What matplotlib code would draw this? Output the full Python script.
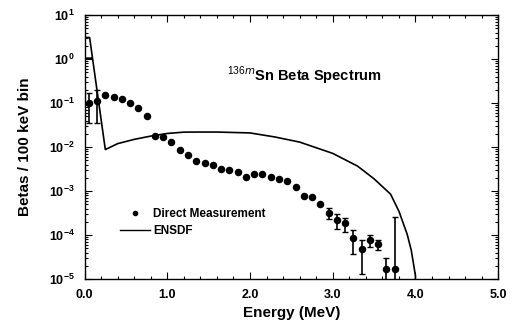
import numpy as np
import matplotlib
matplotlib.use("Agg")
import matplotlib.pyplot as plt
from matplotlib.ticker import FixedLocator, LogLocator, FuncFormatter, MultipleLocator, NullFormatter
from matplotlib.lines import Line2D

plt.rcParams['font.family'] = ['Liberation Sans', 'DejaVu Sans']
plt.rcParams['mathtext.fontset'] = 'custom'
plt.rcParams['mathtext.rm'] = 'Liberation Sans'
plt.rcParams['mathtext.bf'] = 'Liberation Sans:bold'

# measured spectrum (bin centres, MeV) and values
meas_e = [0.05, 0.15, 0.25, 0.35, 0.45, 0.55, 0.65, 0.75, 0.85, 0.95,
          1.05, 1.15, 1.25, 1.35, 1.45, 1.55, 1.65, 1.75, 1.85, 1.95,
          2.05, 2.15, 2.25, 2.35, 2.45, 2.55, 2.65, 2.75, 2.85, 2.95,
          3.05, 3.15, 3.25, 3.35, 3.45, 3.55, 3.65, 3.75]
meas_v = [0.10, 0.11, 0.15, 0.137, 0.123, 0.10, 0.078, 0.051, 0.018, 0.017,
          0.013, 0.0085, 0.0067, 0.0049, 0.0044, 0.0039, 0.0031, 0.0030, 0.00266, 0.0021,
          0.0025, 0.0025, 0.00204, 0.00185, 0.0017, 0.00126, 7.8e-4, 7.2e-4, 5.1e-4, 3.1e-4,
          2.2e-4, 1.86e-4, 8.4e-5, 4.8e-5, 7.9e-5, 6.3e-5, 1.66e-5, 1.66e-5]
meas_lo = [0.035, 0.035, 0.15, 0.137, 0.123, 0.10, 0.078, 0.051, 0.018, 0.017,
           0.013, 0.0085, 0.0067, 0.0049, 0.0044, 0.0039, 0.0031, 0.0030, 0.00266, 0.0021,
           0.0025, 0.0025, 0.00204, 0.00185, 0.0017, 0.00126, 7.8e-4, 7.2e-4, 5.1e-4, 2.3e-4,
           1.4e-4, 1.2e-4, 3.7e-5, 1.3e-5, 5.4e-5, 4.6e-5, 1e-6, 1e-6]
meas_hi = [0.17, 0.20, 0.15, 0.137, 0.123, 0.10, 0.078, 0.051, 0.018, 0.017,
           0.013, 0.0085, 0.0067, 0.0049, 0.0044, 0.0039, 0.0031, 0.0030, 0.00266, 0.0021,
           0.0025, 0.0025, 0.00204, 0.00185, 0.0017, 0.00126, 7.8e-4, 7.2e-4, 5.1e-4, 4.1e-4,
           2.95e-4, 2.45e-4, 1.29e-4, 7.9e-5, 1.0e-4, 7.9e-5, 2.95e-5, 2.6e-4]

# ENSDF calculated spectrum
ensdf_e = [0.08, 0.0, 0.0, 0.06, 0.25, 0.4, 0.6, 0.8, 1.0, 1.2, 1.4, 1.6, 2.0,
           2.3, 2.6, 3.0, 3.3, 3.5, 3.7, 3.8, 3.9, 3.95, 4.0, 4.0]
ensdf_v = [1.05, 1.05, 3.1, 3.1, 0.0088, 0.012, 0.015, 0.0178, 0.0204, 0.0219, 0.022, 0.022, 0.021,
           0.017, 0.013, 0.0072, 0.0037, 0.0019, 8.5e-4, 3.5e-4, 1.05e-4, 4.5e-5, 1.2e-5, 1e-5]

xticks = [0.0, 1.0, 2.0, 3.0, 4.0, 5.0]
yticks = [1e-5, 1e-4, 1e-3, 1e-2, 1e-1, 1e0, 1e1]

fig = plt.figure(figsize=(5.13, 3.28), dpi=100)
ax = fig.add_axes([0.165, 0.149, 0.806, 0.805])

mv = np.array(meas_v)
yerr = [mv - np.array(meas_lo), np.array(meas_hi) - mv]
ax.errorbar(meas_e, meas_v, yerr=yerr, fmt='o', color='k', markersize=4.4,
            elinewidth=1.2, capsize=2, capthick=1.0)
ax.plot(ensdf_e, ensdf_v, color='k', linewidth=1.2)

ax.set_yscale('log')
ax.set_xlim(0, 5)
ax.set_ylim(1e-5, 10)

ax.xaxis.set_major_locator(FixedLocator(xticks))
ax.xaxis.set_minor_locator(MultipleLocator(0.2))
ax.xaxis.set_major_formatter(FuncFormatter(lambda v, p: f"{v:.1f}"))
ax.yaxis.set_major_locator(FixedLocator(yticks))
ax.yaxis.set_minor_locator(LogLocator(base=10, subs=np.arange(2, 10), numticks=20))
ax.yaxis.set_major_formatter(FuncFormatter(lambda v, p: r'$\mathbf{10^{%d}}$' % round(np.log10(v))))
ax.yaxis.set_minor_formatter(NullFormatter())

ax.tick_params(which='both', direction='in', top=True, right=True, width=0.8)
ax.tick_params(which='major', length=5, labelsize=9, pad=7)
ax.tick_params(which='minor', length=2.5)
for lab in ax.get_xticklabels():
    lab.set_fontweight('bold')
for s in ax.spines.values():
    s.set_linewidth(1.0)

ax.set_xlabel('Energy (MeV)', fontsize=11, fontweight='bold', labelpad=4)
ax.set_ylabel('Betas / 100 keV bin', fontsize=11, fontweight='bold', labelpad=12)

ax.text(0.345, 0.77, r'$^{136m}$Sn Beta Spectrum', transform=ax.transAxes,
        fontsize=10.5, fontweight='bold', va='center', ha='left')

handles = [Line2D([], [], color='k', marker='o', markersize=3, linestyle='none'),
           Line2D([], [], color='k', linewidth=1.0)]
ax.legend(handles, ['Direct Measurement', 'ENSDF'], loc='upper left',
          bbox_to_anchor=(0.06, 0.31), frameon=False, handlelength=2.5,
          handletextpad=0.3, labelspacing=0.45, prop={'weight': 'bold', 'size': 8.5})

fig.savefig('out.png', dpi=100)
